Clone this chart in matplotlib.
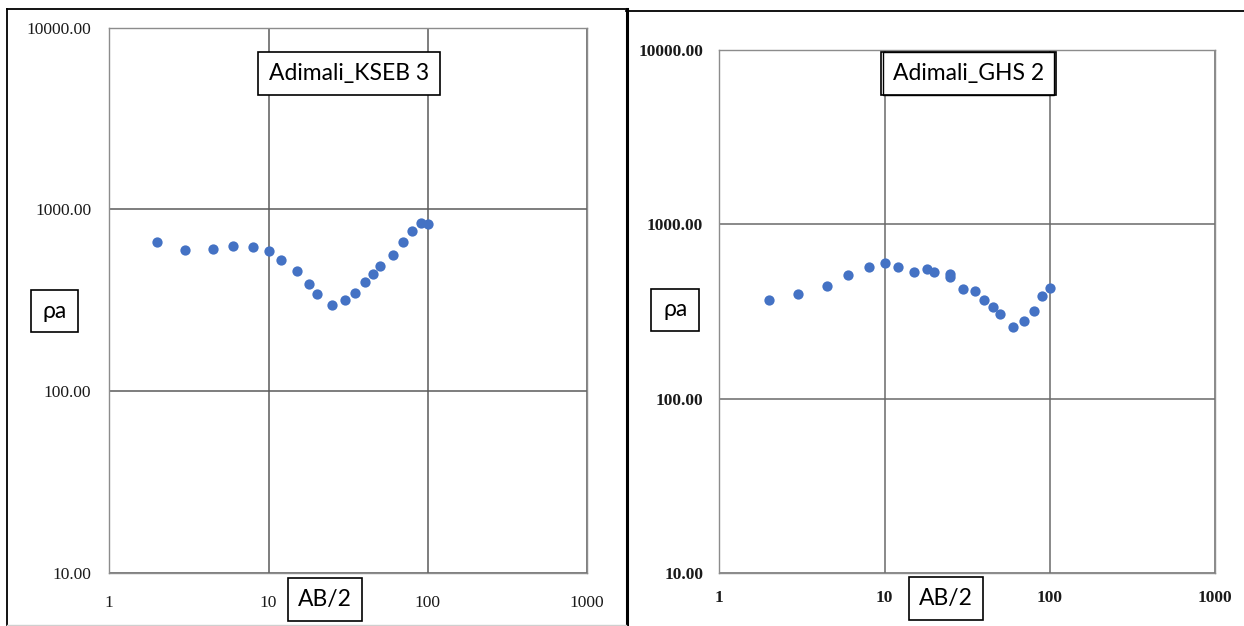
import matplotlib
matplotlib.use("Agg")
import matplotlib.pyplot as plt
from matplotlib.patches import Rectangle
from matplotlib.lines import Line2D

# ---------------- data ----------------
ab2_kseb = [2, 3, 4.5, 6, 8, 10, 12, 15, 18, 20, 25, 30, 35, 40, 45, 50, 60, 70, 80, 90, 100]
rho_kseb = [661, 600, 608, 626, 620, 593, 523, 460, 389, 343, 296, 316, 347, 398, 441, 488,
            557, 659, 760, 845, 834]

ab2_ghs = [2, 3, 4.5, 6, 8, 10, 12, 15, 18, 20, 25, 25, 30, 35, 40, 45, 50, 60, 70, 80, 90, 100]
rho_ghs = [366, 398, 443, 510, 569, 598, 569, 535, 554, 532, 519, 496, 425, 416, 366, 335,
           306, 259, 279, 318, 386, 433]

titles = ["Adimali_KSEB 3", "Adimali_GHS 2"]
xticks = [1, 10, 100, 1000]
xtick_labels = ["1", "10", "100", "1000"]
yticks = [10, 100, 1000, 10000]
ytick_labels = ["10.00", "100.00", "1000.00", "10000.00"]
xlabel = "AB/2"
ylabel = "ρa"

W, H = 1244, 626
fig = plt.figure(figsize=(W / 100, H / 100), dpi=100)
fig.patch.set_facecolor("white")


def fx(px):
    return px / W


def fy(py):
    return 1 - py / H


def add_axes_px(x0, x1, y0, y1):
    return fig.add_axes([fx(x0), fy(y1), fx(x1) - fx(x0), fy(y0) - fy(y1)])


def box_text(x0, x1, y0, y1, txt, size, double=False):
    fig.add_artist(Rectangle((fx(x0), fy(y1)), fx(x1) - fx(x0), fy(y0) - fy(y1),
                             transform=fig.transFigure, facecolor="white",
                             edgecolor="black", lw=1.2, zorder=5))
    if double:
        fig.add_artist(Rectangle((fx(x0 + 2), fy(y1)), fx(x1 - 2) - fx(x0 + 2),
                                 fy(y0) - fy(y1), transform=fig.transFigure,
                                 facecolor="none", edgecolor="black", lw=1.0, zorder=6))
    fig.text(fx((x0 + x1) / 2), fy((y0 + y1) / 2), txt, ha="center", va="center",
             fontsize=size, family="Lato", zorder=7)


marker_color = "#4472C4"


def setup(ax, x, y, ypad, xpad, bold, grid_color):
    ax.plot(x, y, "o", color=marker_color, ms=7.4, mec="none", zorder=3,
            clip_on=False)
    ax.set_xscale("log")
    ax.set_yscale("log")
    ax.set_xlim(1, 1000)
    ax.set_ylim(10, 10000)
    ax.set_xticks(xticks)
    ax.set_xticklabels(xtick_labels)
    ax.set_yticks(yticks)
    ax.set_yticklabels(ytick_labels)
    ax.minorticks_off()
    ax.tick_params(axis="both", which="both", length=0)
    ax.tick_params(axis="y", pad=ypad)
    ax.tick_params(axis="x", pad=xpad)
    for lab in ax.get_xticklabels() + ax.get_yticklabels():
        lab.set_family("Liberation Serif")
        lab.set_fontsize(12.5)
        lab.set_color("#1a1a1a")
        if bold:
            lab.set_fontweight("bold")
    ax.grid(True, which="major", color=grid_color, lw=1.1)
    ax.set_axisbelow(True)
    for s in ax.spines.values():
        s.set_color("#8c8c8c")
        s.set_linewidth(1.0)


axL = add_axes_px(109.3, 587.2, 27.6, 572.7)
setup(axL, ab2_kseb, rho_kseb, ypad=13, xpad=16, bold=False, grid_color="#5a5a5a")

axR = add_axes_px(719.3, 1215.2, 49.9, 573.1)
setup(axR, ab2_ghs, rho_ghs, ypad=11.5, xpad=12.5, bold=True, grid_color="#6a6a6a")

# text boxes
box_text(258, 440, 52, 95, titles[0], 16.5)
box_text(881, 1056, 52, 95, titles[1], 16.5, double=True)
box_text(30.7, 78.3, 290, 332, ylabel, 16.5)
box_text(651, 699.3, 289.3, 330.7, ylabel, 16.5)
box_text(288, 362, 578, 621, xlabel, 16.5)
box_text(909, 983, 577, 620, xlabel, 16.5)


# outer panel frames
def line_px(xs, ys, lw, color="black"):
    fig.add_artist(Line2D([fx(v) for v in xs], [fy(v) for v in ys],
                          transform=fig.transFigure, color=color, lw=lw, zorder=10))


line_px([7.3, 626], [9, 9], 1.3)
line_px([7.3, 7.3], [9, 626], 1.3)
line_px([626.5, 626.5], [9, 626], 2.2)
line_px([7.3, 626], [625, 625], 1.0, color="#cfcfcf")
line_px([626, 1244], [10.7, 10.7], 1.3)

fig.savefig("out.png", dpi=100)
